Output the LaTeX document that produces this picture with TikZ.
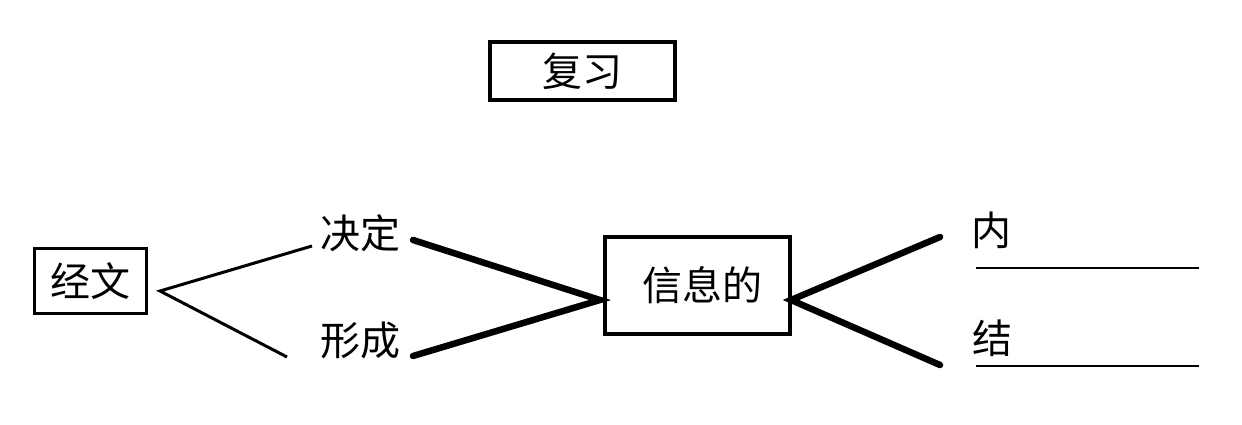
\documentclass[tikz,border=0pt]{standalone}
\usepackage{fontspec}
\newfontfamily\cjk{Noto Sans CJK SC}
\begin{document}
\begin{tikzpicture}[x=1pt,y=-1pt,
  txt/.style={font=\cjk\fontsize{40}{44}\selectfont, inner sep=0pt},
  box/.style={txt, draw, rectangle},
  thinline/.style={line width=3pt},
  thickline/.style={line width=6.5pt, line cap=round},
  rule/.style={line width=2pt}]
\useasboundingbox[fill=white] (0,0) rectangle (1242,425);
% boxes
\node[box, line width=4.5pt, minimum width=185pt, minimum height=58pt] (fx) at (582.5,71) {复习};
\node[box, line width=3.5pt, minimum width=112pt, minimum height=65pt] (jw) at (90.5,281) {经文};
\node[box, line width=4pt, minimum width=185pt, minimum height=97pt] (xx) at (697,285) {\hspace*{10pt}信息的};
% labels
\node[txt] (jd) at (360,233) {决定};
\node[txt] (xc) at (360,340) {形成};
\node[txt] (nei) at (991,230) {内};
\node[txt] (jie) at (992,338) {结};
% connector coordinates
\coordinate (a1) at (160,291);
\coordinate (b1) at (312,246);
\coordinate (c1) at (287,357);
\coordinate (d1) at (413,240);
\coordinate (f1) at (413,356);
\coordinate (e1) at (600,300);
\coordinate (g1) at (791,300);
\coordinate (h1) at (940,237);
\coordinate (h2) at (940,365);
\coordinate (u1) at (976,268);
\coordinate (u2) at (1199,268);
\coordinate (v1) at (976,366);
\coordinate (v2) at (1199,366);
% connectors
\draw[thinline] (b1) -- (a1) -- (c1);
\draw[thickline] (d1) -- (e1) -- (f1);
\draw[thickline] (h1) -- (g1) -- (h2);
\draw[rule] (u1) -- (u2);
\draw[rule] (v1) -- (v2);
\end{tikzpicture}
\end{document}
